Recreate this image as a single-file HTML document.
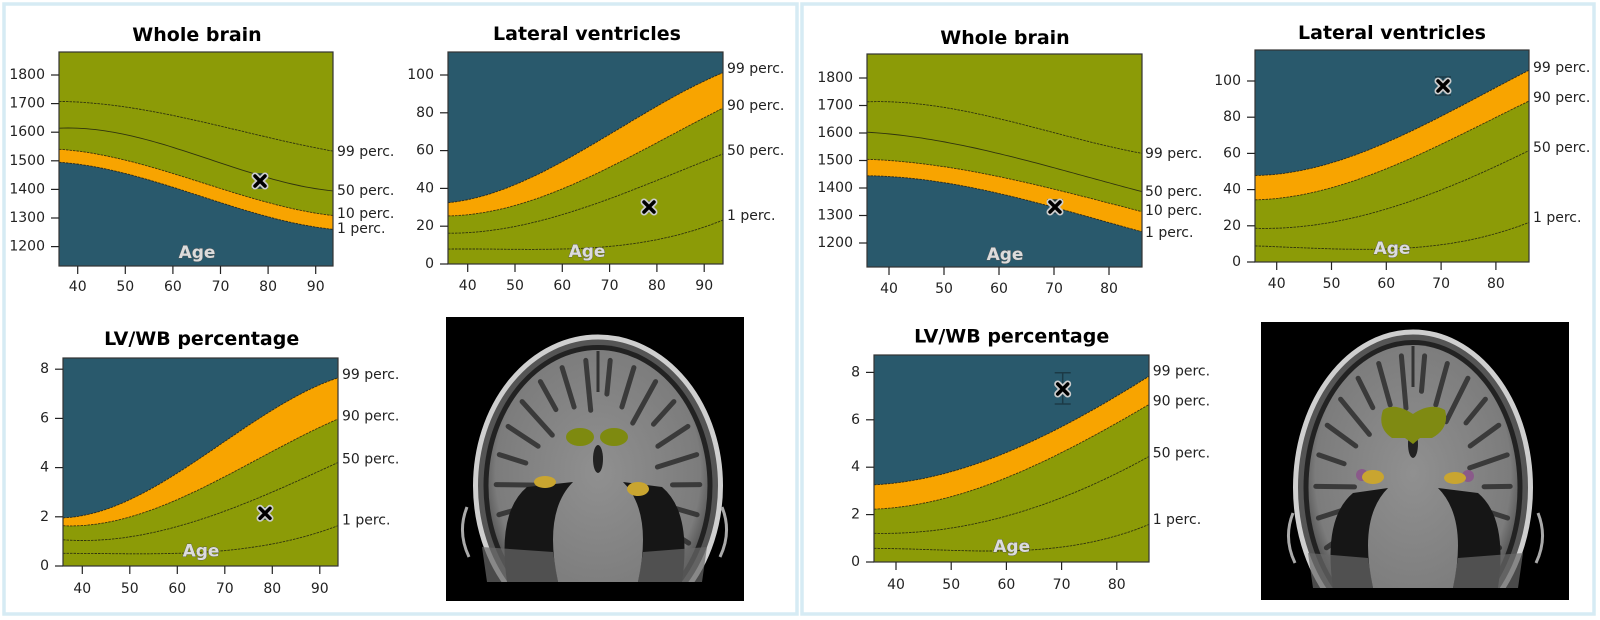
<!DOCTYPE html>
<html><head><meta charset="utf-8">
<style>
html,body{margin:0;padding:0;background:#fff;}
svg{display:block;font-family:"DejaVu Sans","Liberation Sans",sans-serif;}
</style></head>
<body>
<svg id="s" width="1600" height="620" viewBox="0 0 1600 620" xmlns="http://www.w3.org/2000/svg">
<rect x="4" y="4" width="793" height="610" fill="none" stroke="#d6ebf4" stroke-width="3.5"/>
<rect x="802" y="4" width="792" height="610" fill="none" stroke="#d6ebf4" stroke-width="3.5"/>
</svg>
<script>
const S=document.getElementById('s');
let out='';
const BLUE='#29596c',OLIVE='#8c9b07',ORANGE='#f8a400';
function solve(A,b){const n=b.length;for(let i=0;i<n;i++){let m=i;for(let k=i+1;k<n;k++)if(Math.abs(A[k][i])>Math.abs(A[m][i]))m=k;[A[i],A[m]]=[A[m],A[i]];[b[i],b[m]]=[b[m],b[i]];for(let k=i+1;k<n;k++){const f=A[k][i]/A[i][i];for(let j=i;j<n;j++)A[k][j]-=f*A[i][j];b[k]-=f*b[i];}}const x=new Array(n).fill(0);for(let i=n-1;i>=0;i--){let s=b[i];for(let j=i+1;j<n;j++)s-=A[i][j]*x[j];x[i]=s/A[i][i];}return x;}
function cr(p){
  const xa=p[0][0],xb=p[p.length-1][0];const deg=Math.min(3,p.length-1);
  const t=x=>(x-xa)/(xb-xa);
  const A=[],b=[];for(let i=0;i<=deg;i++){A.push(new Array(deg+1).fill(0));b.push(0);}
  for(const q of p){const u=t(q[0]);for(let i=0;i<=deg;i++){for(let j=0;j<=deg;j++)A[i][j]+=Math.pow(u,i+j);b[i]+=Math.pow(u,i)*q[1];}}
  const c=solve(A,b);
  let d='';for(let k=0;k<=60;k++){const u=k/60;let y=0;for(let i=0;i<=deg;i++)y+=c[i]*Math.pow(u,i);d+=(k?'L':'M')+(xa+u*(xb-xa)).toFixed(1)+','+y.toFixed(1);}
  return d;
}
function plot(o){
  const {x0,x1,y0,y1}=o;
  const cid='c'+Math.round(x0)+'_'+Math.round(y0);
  out+=`<defs><clipPath id="${cid}"><rect x="${x0}" y="${y0}" width="${x1-x0}" height="${y1-y0}"/></clipPath></defs>`;
  out+=`<g clip-path="url(#${cid})">`;
  out+=`<rect x="${x0}" y="${y0}" width="${x1-x0}" height="${y1-y0}" fill="${o.bg}"/>`;
  for(const f of o.fills){
    out+=`<path d="${cr(o.curves[f[0]])} L${x1},${y1+5} L${x0},${y1+5} Z" fill="${f[1]}"/>`;
  }
  for(const k in o.curves){
    out+=`<path d="${cr(o.curves[k])}" fill="none" stroke="#111" stroke-width="0.9" stroke-dasharray="${k==='50'&&o.solid50?'':'2.5,1'}" opacity="0.75"/>`;
  }
  out+=`<text x="${o.age[0]}" y="${o.age[1]}" text-anchor="middle" dominant-baseline="central" font-weight="bold" font-size="17" fill="#dcdcdc" stroke="#555" stroke-width="0.7" paint-order="stroke">Age</text>`;
  const [mx,my]=o.mk; const e=o.err||[my-6,my+6];
  out+=`<g stroke="#1c3a46" stroke-width="1.5"><line x1="${mx}" y1="${e[0]}" x2="${mx}" y2="${e[1]}"/><line x1="${mx-8}" y1="${e[0]}" x2="${mx+8}" y2="${e[0]}"/><line x1="${mx-8}" y1="${e[1]}" x2="${mx+8}" y2="${e[1]}"/></g>`;
  out+=`<g stroke-linecap="round"><path d="M${mx-5},${my-5}L${mx+5},${my+5}M${mx+5},${my-5}L${mx-5},${my+5}" stroke="#ccc" stroke-width="7"/><path d="M${mx-5},${my-5}L${mx+5},${my+5}M${mx+5},${my-5}L${mx-5},${my+5}" stroke="#000" stroke-width="3.5"/></g>`;
  out+=`</g>`;
  out+=`<rect x="${x0}" y="${y0}" width="${x1-x0}" height="${y1-y0}" fill="none" stroke="#333" stroke-width="1.2"/>`;
  for(const t of o.yt){
    out+=`<line x1="${x0-8}" y1="${t[1]}" x2="${x0}" y2="${t[1]}" stroke="#222" stroke-width="1.2"/>`;
    out+=`<text x="${x0-14}" y="${t[1]}" text-anchor="end" dominant-baseline="central" font-size="14" fill="#222">${t[0]}</text>`;
  }
  for(const t of o.xt){
    out+=`<line x1="${t[1]}" y1="${y1}" x2="${t[1]}" y2="${y1+8}" stroke="#222" stroke-width="1.2"/>`;
    out+=`<text x="${t[1]}" y="${o.xly}" text-anchor="middle" dominant-baseline="central" font-size="14" fill="#222">${t[0]}</text>`;
  }
  for(const l of o.labels){
    out+=`<text x="${o.lx}" y="${l[1]}" dominant-baseline="central" font-size="14" fill="#222">${l[0]} perc.</text>`;
  }
  out+=`<text x="${o.title[0]}" y="${o.title[1]}" text-anchor="middle" dominant-baseline="central" font-weight="bold" font-size="19" fill="#000">${o.title[2]}</text>`;
}
function ticks(vals,f){return vals.map(v=>[v,f(v)]);}

(function(){const x0=59,x1=333,y0=52,y1=266;const X=a=>77.7+(a-40)*4.76,Y=v=>75+(1800-v)*0.286;
plot({x0,x1,y0,y1,bg:OLIVE,solid50:true,
 curves:{'99':[[x0,100.7],[77.7,103],[173,115],[268,137.7],[x1,151]],
 '50':[[x0,127.3],[77.7,129.5],[173,146.7],[268,178.3],[x1,190.7]],
 '10':[[x0,149],[77.7,151.5],[173,173.3],[268,202.7],[x1,215.5]],
 '1':[[x0,162.3],[77.7,164],[173,187.3],[268,216.7],[x1,229.3]]},
 fills:[['10',ORANGE],['1',BLUE]],
 age:[197,253],mk:[260,181],err:[174,188],
 yt:ticks([1200,1300,1400,1500,1600,1700,1800],Y),xt:ticks([40,50,60,70,80,90],X),xly:287,
 lx:337,labels:[[99,152],[50,191],[10,214],[1,229]],title:[197,35,'Whole brain']});})();

(function(){const x0=448,x1=723,y0=52,y1=264;const X=a=>467.7+(a-40)*4.73,Y=v=>264-v*1.89;
plot({x0,x1,y0,y1,bg:BLUE,solid50:false,
 curves:{'99':[[x0,202.7],[X(50),185],[X(60),161],[X(70),135],[X(80),106],[x1,72.7]],
 '90':[[x0,216],[X(50),205],[X(60),189],[X(70),168],[X(80),142],[x1,108.3]],
 '50':[[x0,233.3],[X(50),226],[X(60),215],[X(70),199],[X(80),180],[x1,154]],
 '1':[[x0,249],[X(50),249.5],[X(60),249],[X(70),246],[X(80),240],[x1,220]]},
 fills:[['99',ORANGE],['90',OLIVE]],
 age:[587,252],mk:[649,207],err:[202,212],
 yt:ticks([0,20,40,60,80,100],Y),xt:ticks([40,50,60,70,80,90],X),xly:286,
 lx:727,labels:[[99,69],[90,106],[50,151],[1,216]],title:[587,34,'Lateral ventricles']});})();

(function(){const x0=867,x1=1142,y0=54,y1=267;const X=a=>889+(a-40)*5.5,Y=v=>78+(1800-v)*0.275;
plot({x0,x1,y0,y1,bg:OLIVE,solid50:true,
 curves:{'99':[[x0,101.7],[X(45),104],[X(60),118.3],[X(75),140],[x1,153.3]],
 '50':[[x0,132.3],[X(45),137],[X(60),154],[X(75),175],[x1,191.7]],
 '10':[[x0,159.3],[X(45),163],[X(60),176.7],[X(75),196],[x1,211.7]],
 '1':[[x0,175.7],[X(45),179],[X(60),193.3],[X(75),215],[x1,231.7]]},
 fills:[['10',ORANGE],['1',BLUE]],
 age:[1005,255],mk:[1055,207],err:[200,213],
 yt:ticks([1200,1300,1400,1500,1600,1700,1800],Y),xt:ticks([40,50,60,70,80],X),xly:289,
 lx:1145,labels:[[99,154],[50,192],[10,211],[1,233]],title:[1005,38,'Whole brain']});})();

(function(){const x0=1255,x1=1529,y0=50,y1=262;const X=a=>1276.7+(a-40)*5.48,Y=v=>262-v*1.81;
plot({x0,x1,y0,y1,bg:BLUE,solid50:false,
 curves:{'99':[[x0,175.7],[X(50),162],[X(60),143.3],[X(70),117],[X(80),86],[x1,71]],
 '90':[[x0,200],[X(50),187],[X(60),169.3],[X(70),145],[X(80),116],[x1,101.7]],
 '50':[[x0,228.3],[X(50),222],[X(60),209.3],[X(70),190],[X(80),166],[x1,150.7]],
 '1':[[x0,246],[X(50),248.5],[X(60),249.3],[X(70),245],[X(80),233],[x1,222.7]]},
 fills:[['99',ORANGE],['90',OLIVE]],
 age:[1392,249],mk:[1443,86],err:[77,95],
 yt:ticks([0,20,40,60,80,100],Y),xt:ticks([40,50,60,70,80],X),xly:284,
 lx:1533,labels:[[99,68],[90,98],[50,148],[1,218]],title:[1392,33,'Lateral ventricles']});})();

(function(){const x0=63,x1=338,y0=358,y1=566;const X=a=>82.3+(a-40)*4.75,Y=v=>566-v*24.6;
plot({x0,x1,y0,y1,bg:BLUE,solid50:false,
 curves:{'99':[[x0,518.3],[X(50),498],[X(60),474],[X(70),443.3],[X(80),408],[x1,378.3]],
 '90':[[x0,526],[X(50),516],[X(60),500],[X(70),478],[X(80),450],[x1,419.3]],
 '50':[[x0,540],[X(50),536],[X(60),527],[X(70),512],[X(80),491],[x1,462.7]],
 '1':[[x0,553.3],[X(50),554],[X(60),553],[X(70),550.7],[X(80),544],[x1,525.7]]},
 fills:[['99',ORANGE],['90',OLIVE]],
 age:[201,551.7],mk:[265,513.3],err:[508,519],
 yt:ticks([0,2,4,6,8],Y),xt:ticks([40,50,60,70,80,90],X),xly:589,
 lx:342,labels:[[99,375],[90,416.7],[50,459.3],[1,520.7]],title:[201.7,339,'LV/WB percentage']});})();

(function(){const x0=874,x1=1149,y0=355,y1=562;const X=a=>896+(a-40)*5.52,Y=v=>562-v*23.7;
plot({x0,x1,y0,y1,bg:BLUE,solid50:false,
 curves:{'99':[[x0,485],[X(50),471],[X(60),453.3],[X(70),427],[X(80),395],[x1,376.7]],
 '90':[[x0,509.3],[X(50),496],[X(60),478.3],[X(70),453],[X(80),422],[x1,405]],
 '50':[[x0,533.3],[X(50),528],[X(60),516],[X(70),498],[X(80),473],[x1,456.7]],
 '1':[[x0,548.3],[X(50),550.5],[X(60),550.7],[X(70),547],[X(80),536],[x1,524.3]]},
 fills:[['99',ORANGE],['90',OLIVE]],
 age:[1011.7,547],mk:[1062.7,389],err:[372.7,404],
 yt:ticks([0,2,4,6,8],Y),xt:ticks([40,50,60,70,80],X),xly:585,
 lx:1152.7,labels:[[99,371.7],[90,401.7],[50,453.3],[1,520]],title:[1011.7,336.7,'LV/WB percentage']});})();

function brain(bx0,by0,bx1,by1,cx,top,left,right,bot,vent,hip){
  const id='b'+bx0;
  out+=`<defs><clipPath id="${id}"><rect x="${bx0}" y="${by0}" width="${bx1-bx0}" height="${by1-by0}"/></clipPath>
  <radialGradient id="g${id}" cx="50%" cy="45%" r="55%"><stop offset="0" stop-color="#909090"/><stop offset="0.85" stop-color="#7c7c7c"/><stop offset="1" stop-color="#4a4a4a"/></radialGradient></defs>`;
  out+=`<rect x="${bx0}" y="${by0}" width="${bx1-bx0}" height="${by1-by0}" fill="#000"/>`;
  out+=`<g clip-path="url(#${id})">`;
  const rw=(right-left)/2, ry=(bot-top)*0.62, cy=top+ry;
  out+=`<ellipse cx="${cx}" cy="${cy}" rx="${rw}" ry="${ry}" fill="#555" stroke="#cfcfcf" stroke-width="5"/>`;
  out+=`<ellipse cx="${cx}" cy="${cy}" rx="${rw-8}" ry="${ry-8}" fill="#222"/>`;
  out+=`<ellipse cx="${cx}" cy="${cy}" rx="${rw-13}" ry="${ry-13}" fill="url(#g${id})"/>`;
  let s='';
  for(let i=0;i<18;i++){
    const a=Math.PI*(-0.15+1.3*i/17);
    const r1=0.93,r2=0.68-(i%3)*0.06;
    const x1=cx-Math.cos(a)*(rw-13)*r1,y1=cy-Math.sin(a)*(ry-13)*r1;
    const x2=cx-Math.cos(a)*(rw-13)*r2,y2=cy-Math.sin(a)*(ry-13)*r2;
    s+=`M${x1.toFixed(1)},${y1.toFixed(1)}L${x2.toFixed(1)},${y2.toFixed(1)}`;
  }
  out+=`<path d="${s}" stroke="#2e2e2e" stroke-width="5" stroke-linecap="round" fill="none" opacity="0.85"/>`;
  out+=`<path d="M${cx},${top+14} L${cx},${top+55}" stroke="#333" stroke-width="3"/>`;
  // lower dark regions
  const lb=bot-95;
  out+=`<path d="M${cx-25},${lb} Q${cx-55},${lb+30} ${cx-40},${bot+5} L${left+35},${bot+5} Q${left+25},${lb+30} ${left+55},${lb+5} Z" fill="#161616"/>`;
  out+=`<path d="M${cx+25},${lb} Q${cx+55},${lb+30} ${cx+40},${bot+5} L${right-35},${bot+5} Q${right-25},${lb+30} ${right-55},${lb+5} Z" fill="#161616"/>`;
  out+=`<path d="M${left+10},${bot-30} L${cx-45},${bot-25} L${cx-40},${bot+5} L${left+15},${bot+5} Z" fill="#6a6a6a" opacity="0.7"/>`;
  out+=`<path d="M${right-10},${bot-30} L${cx+45},${bot-25} L${cx+40},${bot+5} L${right-15},${bot+5} Z" fill="#6a6a6a" opacity="0.7"/>`;
  out+=`<path d="M${left-5},${bot-70} q-10,25 2,50 M${right+5},${bot-70} q10,25 -2,50" stroke="#aaa" stroke-width="3" fill="none"/>`;
  out+=`<rect x="${bx0}" y="${bot+5}" width="${bx1-bx0}" height="${by1-bot}" fill="#000"/>`;
  out+=`<ellipse cx="${cx}" cy="${vent[1]+22}" rx="5" ry="14" fill="#222"/>`;
  out+=vent[2];
  out+=hip;
  out+=`</g>`;
}
brain(446,317,744,601,598,337,472,717,577,[0,437,
 `<ellipse cx="580" cy="437" rx="14" ry="9" fill="#7e8a10"/><ellipse cx="614" cy="437" rx="14" ry="9" fill="#7e8a10"/>`],
 `<ellipse cx="545" cy="482" rx="11" ry="6" fill="#c9a530"/><ellipse cx="638" cy="489" rx="11" ry="7" fill="#c9a530"/>`);
brain(1261,322,1569,600,1413,332,1298,1533,583,[0,422,
 `<path d="M1383,410 Q1395,402 1413,414 Q1431,402 1445,410 Q1450,428 1432,438 L1420,438 L1413,444 L1405,438 L1392,438 Q1377,428 1383,410 Z" fill="#7f8a12"/>`],
 `<ellipse cx="1362" cy="475" rx="6" ry="6" fill="#8a5a8a"/><ellipse cx="1373" cy="477" rx="11" ry="7" fill="#c9a530"/><ellipse cx="1468" cy="476" rx="6" ry="6" fill="#8a5a8a"/><ellipse cx="1455" cy="478" rx="11" ry="6" fill="#c9a530"/>`);

S.insertAdjacentHTML('beforeend',out);
</script>
</body></html>
